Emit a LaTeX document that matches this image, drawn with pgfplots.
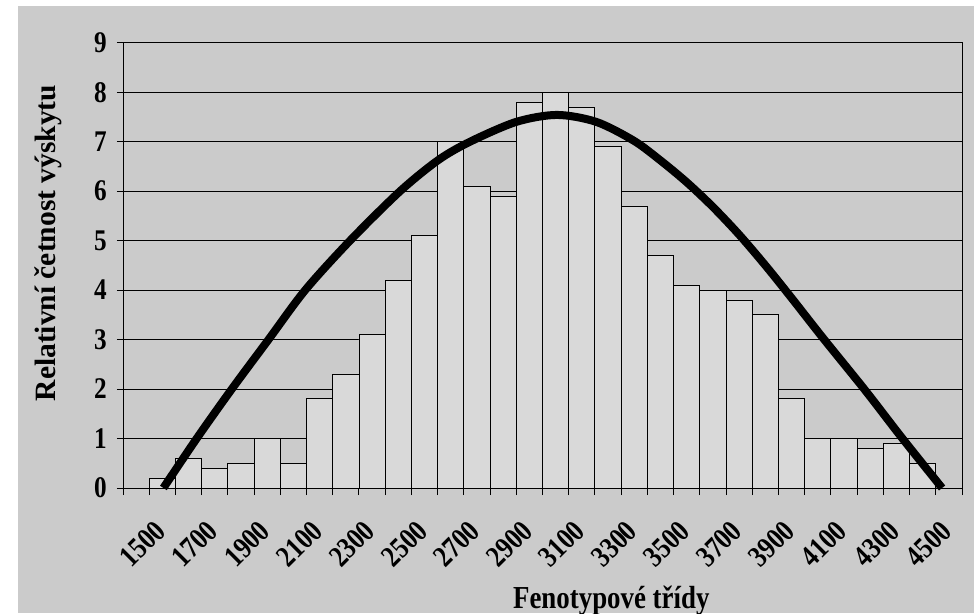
\documentclass[border=0pt]{standalone}
\usepackage{fontspec}
\setmainfont{Liberation Serif}[FakeStretch=0.92]
\newfontfamily\ylfont{Liberation Serif}
\newfontfamily\xlfont{Liberation Serif}[FakeStretch=0.84]
\usepackage{pgfplots}
\pgfplotsset{compat=1.18}
\definecolor{bg}{RGB}{203,203,203}
\definecolor{barc}{RGB}{217,217,217}
\begin{document}
\begin{tikzpicture}[x=1pt,y=1pt]
\fill[white] (0,0) rectangle (977,613);
\fill[bg] (18,0) rectangle (974,607);
\path[use as bounding box] (0,0) rectangle (977,613);
\begin{axis}[
  at={(123pt,125pt)}, anchor=south west,
  scale only axis, width=839pt, height=445.3pt,
  xmin=-0.5, xmax=31.5, ymin=0, ymax=9,
  clip=false,
  ytick={0,1,2,3,4,5,6,7,8,9},
  xtick={0,2,4,6,8,10,12,14,16,18,20,22,24,26,28,30},
  xticklabels={1500,1700,1900,2100,2300,2500,2700,2900,3100,3300,3500,3700,3900,4100,4300,4500},
  minor xtick={-0.5,0.5,...,31.5},
  major x tick style={draw=none},
  tick align=outside, tick pos=left,
  major tick length=6pt, minor tick length=7pt,
  every tick/.style={black, line width=1pt},
  ymajorgrids, grid style={black, line width=0.9pt},
  axis line style={black, line width=1pt},
  /pgf/number format/assume math mode=true,
  yticklabel style={font=\xlfont\bfseries\fontsize{30}{30}\selectfont, inner sep=0pt, anchor=east, xshift=-10pt},
  xticklabel style={font=\xlfont\bfseries\fontsize{30}{30}\selectfont, inner sep=0pt, xshift=24pt, yshift=-32pt, rotate=45, anchor=east},
  xlabel={Fenotypové třídy},
  xlabel style={at={(rel axis cs:0.582,-0.2695)}, anchor=base, inner sep=0pt, font=\xlfont\bfseries\fontsize{32}{32}\selectfont},
  ylabel={Relativní četnost výskytu},
  ylabel style={at={(rel axis cs:-0.081,0.55)}, anchor=base, inner sep=0pt, font=\ylfont\bfseries\fontsize{29.5}{29.5}\selectfont},
]
\addplot[ybar, bar width=1, fill=barc, draw=black, line width=0.9pt] coordinates {
(1,0.2) (2,0.6) (3,0.4) (4,0.5) (5,1.0) (6,0.5) (7,1.8) (8,2.3) (9,3.1) (10,4.2)
(11,5.1) (12,7.0) (13,6.1) (14,5.9) (15,7.8) (16,8.0) (17,7.7) (18,6.9) (19,5.7) (20,4.7)
(21,4.1) (22,4.0) (23,3.8) (24,3.5) (25,1.8) (26,1.0) (27,1.0) (28,0.8) (29,0.9) (30,0.5)
};
\addplot[black, line width=8pt, smooth, tension=0.5] coordinates {
(1.04,0) (2.31,1.0) (3.65,2.0) (5.05,3.0) (6.45,4.0) (8.16,5.0) (10.07,6.0) (11.53,6.63) (12.74,7.0) (14.5,7.40)
(16.05,7.54) (17.55,7.40) (18.98,7.02) (20.0,6.62) (21.0,6.18) (22.0,5.68) (23.0,5.12) (24.0,4.5) (25.0,3.84)
(26.2,3.03) (27.8,1.98) (29.2,1.02) (30.74,0)
};
\end{axis}
\end{tikzpicture}
\end{document}
